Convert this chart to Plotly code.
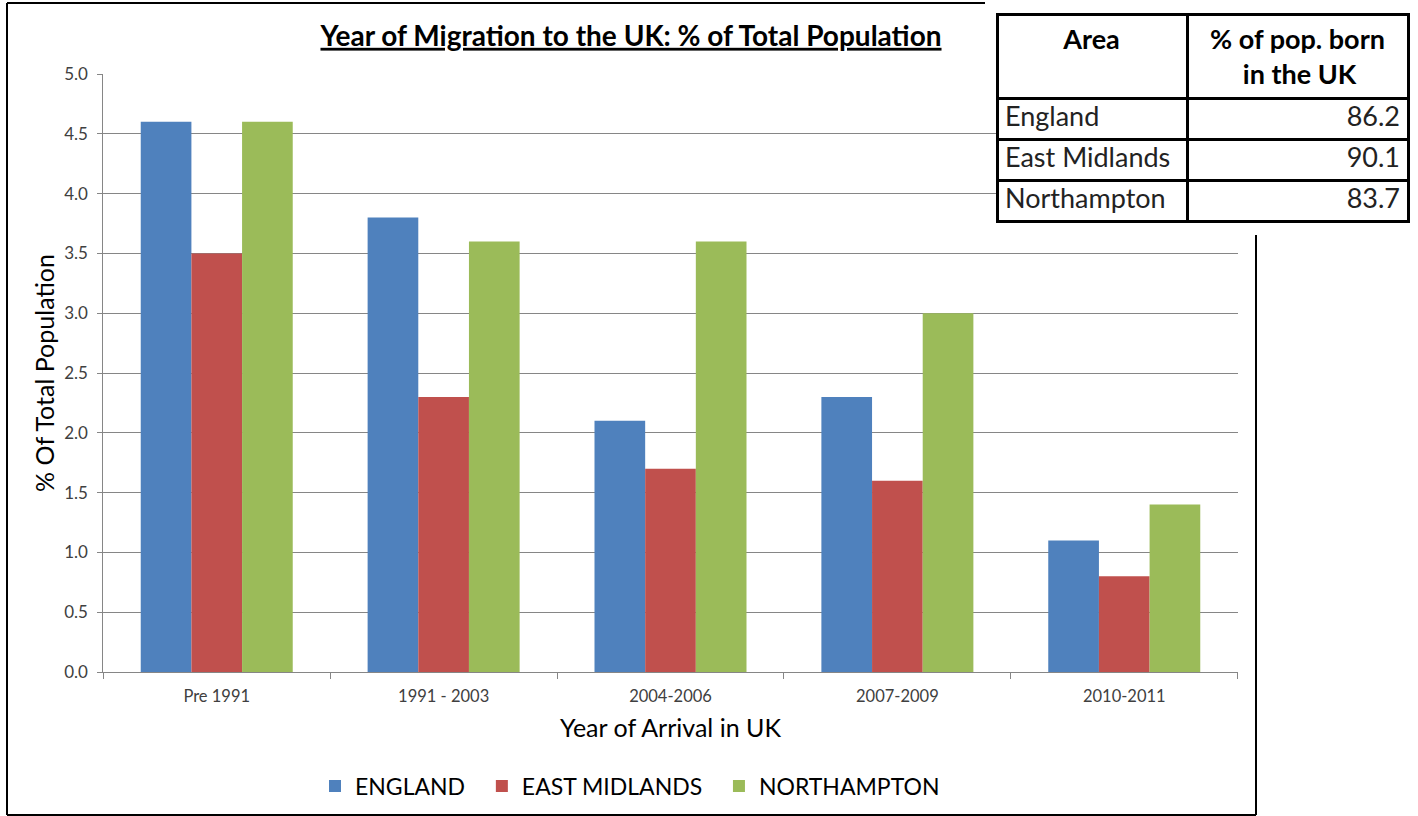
import plotly.graph_objects as go

W, H = 1418, 816

periods = ["Pre 1991", "1991 - 2003", "2004-2006", "2007-2009", "2010-2011"]
england = [4.6, 3.8, 2.1, 2.3, 1.1]
east_midlands = [3.5, 2.3, 1.7, 1.6, 0.8]
northampton = [4.6, 3.6, 3.6, 3.0, 1.4]
series_names = ["ENGLAND", "EAST MIDLANDS", "NORTHAMPTON"]
series_colors = ["#4F81BD", "#C0504D", "#9BBB59"]

table_header = ["Area", "% of pop. born", "in the UK"]
table_areas = ["England", "East Midlands", "Northampton"]
table_born_uk = [86.2, 90.1, 83.7]

FONT = "Lato"
NB = "\u00a0"

def px(x):
    return x / W

def py(y):
    return 1 - y / H

fig = go.Figure()
for name, vals, col in zip(series_names, [england, east_midlands, northampton], series_colors):
    fig.add_trace(go.Bar(x=periods, y=vals, name=name + NB * 2,
                         marker=dict(color=col, line=dict(width=0))))

fig.add_trace(go.Table(
    domain=dict(x=[px(997), px(1408)], y=[py(240), py(14)]),
    columnwidth=[190, 221],
    header=dict(
        values=["<b>%s</b>" % table_header[0],
                "<b>%s<br>%s%s</b>" % (table_header[1], NB * 5, table_header[2])],
        align="center",
        height=82,
        font=dict(family=FONT, size=27, color="black"),
        line=dict(color="black", width=3),
        fill=dict(color="white"),
    ),
    cells=dict(
        values=[table_areas, table_born_uk],
        align=["left", "right"],
        height=41,
        font=dict(family=FONT, size=27, color="#222222"),
        line=dict(color="black", width=3),
        fill=dict(color="white"),
    ),
))

border = dict(type="line", xref="paper", yref="paper", line=dict(color="black", width=2))
fig.add_shape(**border, x0=px(7), x1=px(985), y0=py(3), y1=py(3))
fig.add_shape(**border, x0=px(7), x1=px(7), y0=py(3), y1=py(815))
fig.add_shape(**border, x0=px(7), x1=px(1256), y0=py(815), y1=py(815))
fig.add_shape(**border, x0=px(1256), x1=px(1256), y0=py(235), y1=py(815))

fig.update_layout(
    width=W, height=H,
    margin=dict(l=0, r=0, t=0, b=0, autoexpand=False),
    paper_bgcolor="white", plot_bgcolor="white",
    barmode="group", bargap=0.33, bargroupgap=0,
    font=dict(family=FONT, color="#404040"),
    title=dict(
        text="<b>Year of Migration to the UK: % of Total Population</b>",
        x=px(631), xanchor="center", y=py(36), yanchor="middle",
        xref="paper", yref="paper", automargin=False,
        font=dict(family=FONT, size=28, color="black", lineposition="under"),
    ),
    xaxis=dict(
        domain=[px(103.3), px(1237.7)], automargin=False,
        showgrid=False, showline=True, linecolor="#868686", linewidth=1,
        ticks="outside", tickson="boundaries", ticklen=6, tickcolor="#868686",
        tickfont=dict(size=16.5, color="#404040"), ticklabelstandoff=9,
        title=dict(text="Year of Arrival in UK", font=dict(size=25, color="black"), standoff=14),
    ),
    yaxis=dict(
        domain=[py(672), py(74)], automargin=False,
        range=[0, 5], dtick=0.5, tickformat=".1f",
        showgrid=True, gridcolor="#868686", gridwidth=1,
        showline=True, linecolor="#868686", linewidth=1,
        ticks="outside", ticklen=5, tickcolor="#868686",
        tickfont=dict(size=17, color="#404040"), ticklabelstandoff=6,
        zeroline=False,
        title=dict(text="% Of Total Population", font=dict(size=25, color="black"), standoff=2),
    ),
    legend=dict(
        orientation="h", x=px(636), xanchor="center", y=py(786), yanchor="middle",
        font=dict(size=23, color="black"), itemwidth=30, traceorder="normal",
        bgcolor="rgba(0,0,0,0)",
    ),
)

fig.write_html(
    "out.html",
    config={"displayModeBar": False},
    post_script="document.body.style.margin='0';document.documentElement.style.overflow='hidden';",
)
